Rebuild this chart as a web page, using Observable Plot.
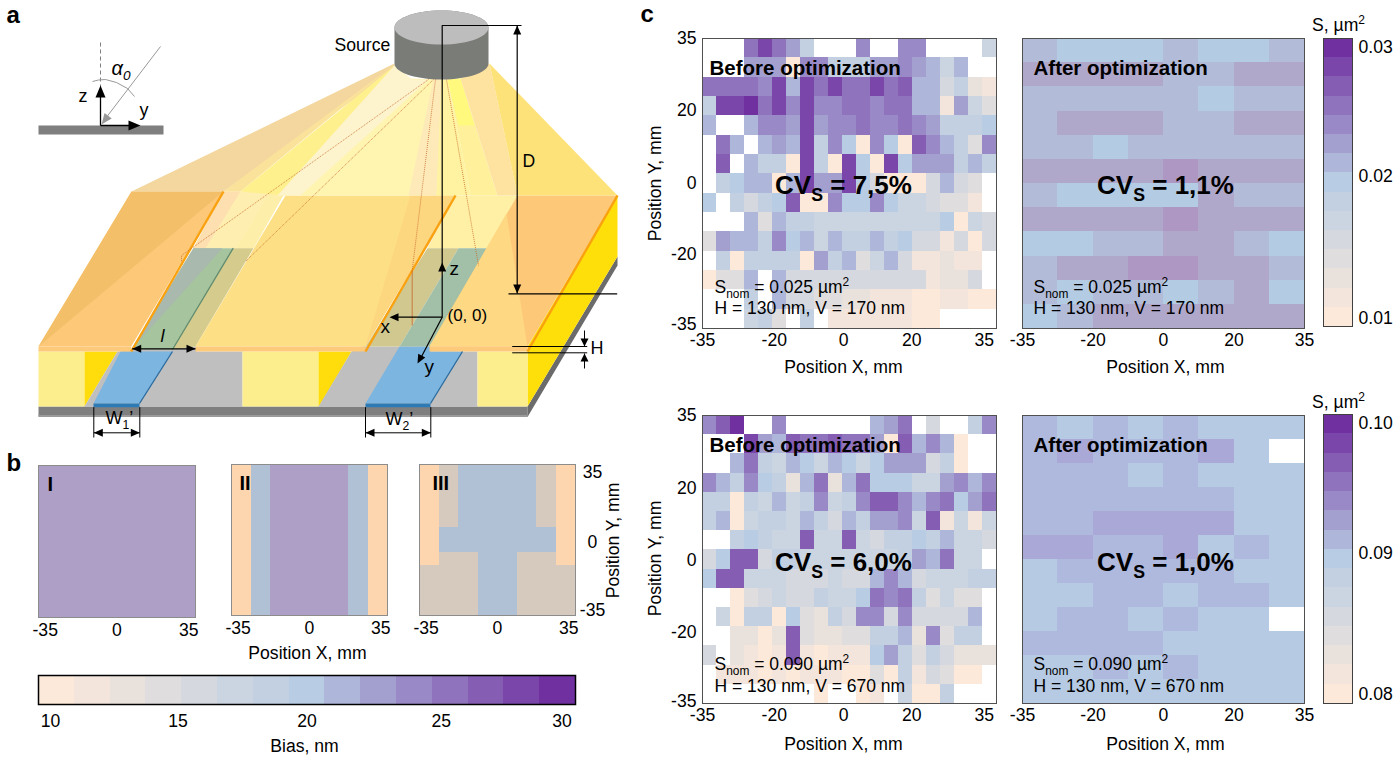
<!DOCTYPE html>
<html>
<head>
<meta charset="utf-8">
<script src="https://cdn.jsdelivr.net/npm/d3@7"></script>
<script src="https://cdn.jsdelivr.net/npm/@observablehq/plot@0.6"></script>
<style>
html,body{margin:0;padding:0;background:#fff;overflow:hidden}
#page{position:relative;width:1399px;height:762px;font-family:"Liberation Sans",Arial,sans-serif}
#page svg{position:absolute;overflow:visible;max-width:none}
</style>
</head>
<body>
<div id="page"></div>
<script>
const _ = null;
// ---------- shared colour bands (low to high) ----------
const bandColors = ["#FDE9D9","#F3E5DB","#E9E1DC","#DFDDDE","#D5D9DF","#CBD4E1","#C2D0E2","#B8CCE4","#AEB6DA","#A3A0D0","#9989C7","#8F73BD","#855DB3","#7A46AA","#7030A0"];

// ---------- panel c, top row: S in 10^-3 um^2 ----------
const beforeTop = [
[_,_,_,25,28,25,23,19,_,_,_,24,_,_,24,24,_,_,_,_,17],
[_,_,_,23,23,23,11,24,24,19,19,19,23,23,24,23,21,17,21,_,_],
[25,25,25,25,24,28,21,28,25,28,25,25,28,25,27,21,21,16,19,13,12],
[19,28,28,29,25,28,24,28,24,24,25,25,24,25,25,21,21,12,23,17,15],
[21,_,_,21,24,24,23,28,23,24,24,25,24,24,25,24,23,19,19,19,20],
[_,25,21,_,21,23,21,28,19,24,20,11,24,20,11,27,24,21,19,15,24],
[_,27,_,21,19,19,11,28,19,11,28,20,11,28,20,23,23,23,19,21,19],
[_,19,20,21,21,11,21,28,23,23,28,20,16,11,11,11,16,21,16,15,_],
[20,_,19,16,19,20,27,11,11,24,20,20,24,20,17,17,16,15,15,12,_],
[_,_,_,21,15,21,19,19,17,17,17,17,17,17,17,17,17,20,11,17,16],
[15,23,21,21,19,24,20,21,17,21,19,19,21,19,20,16,16,12,16,11,16],
[_,19,11,19,19,19,19,11,23,19,21,15,17,21,16,12,12,13,12,12,_],
[11,15,15,21,_,21,16,16,16,16,16,16,16,16,16,16,12,13,13,16,_],
[_,_,_,19,_,21,16,16,15,15,13,13,12,12,12,11,11,12,12,11,11],
[_,_,_,17,19,15,_,19,_,12,12,12,12,12,12,11,11,_,_,_,_]
];
const afterTop = [
[21,20,20,20,21,20,20,21],
[22,22,22,22,21,21,22,22],
[21,21,21,21,21,20,21,21],
[21,22,22,22,21,21,22,22],
[21,21,20,21,21,21,21,21],
[22,22,22,22,23,22,22,22],
[21,20,20,20,20,22,21,21],
[22,22,22,22,23,22,22,22],
[20,20,21,21,22,22,21,20],
[21,22,22,23,23,22,22,21],
[21,20,21,21,20,21,22,20],
[20,21,22,22,22,22,22,22]
];
const afterTopThresholds = [20.5,21.5,22.5];
const afterTopColors = ["#B3CBE3","#B2BCD9","#B0A8CB","#AE98C3"];

// ---------- panel c, bottom row ----------
const beforeBottom = [
[94,97,99,_,_,94,_,_,_,_,_,_,91,93,95,_,86,_,_,89,94],
[_,_,_,98,93,91,97,95,95,97,95,95,93,81,97,91,94,91,81,_,_],
[_,_,91,95,89,87,91,90,87,91,90,87,90,93,93,93,86,89,81,_,_],
[94,91,89,94,90,89,83,91,95,83,91,95,90,90,90,87,87,93,94,91,94],
[89,89,81,89,87,91,87,89,94,87,89,94,97,97,94,91,94,95,90,93,95],
[89,91,81,87,89,89,87,91,89,86,91,89,93,93,94,87,97,82,87,82,87],
[_,_,89,90,89,87,87,97,87,87,97,87,86,89,89,90,89,91,87,87,86],
[86,90,97,97,86,89,89,87,87,87,87,87,87,87,89,93,91,95,87,87,_],
[90,97,97,87,87,87,86,86,86,87,86,86,91,94,91,86,87,87,87,89,89],
[_,_,81,85,86,87,86,86,89,87,87,90,95,94,95,89,85,87,85,85,_],
[_,87,81,89,89,81,90,85,83,89,86,94,94,86,94,86,86,86,86,91,_],
[_,_,83,83,81,83,97,85,83,83,85,85,89,89,91,83,94,85,89,89,_],
[86,_,83,82,81,82,97,82,81,82,82,82,90,93,89,85,89,86,83,83,83],
[_,82,82,82,81,82,81,82,82,82,81,81,85,81,89,82,86,85,81,81,_],
[_,_,_,_,_,_,_,_,81,_,_,81,82,_,87,81,81,89,_,_,_]
];
const afterBottom = [
[91,90,91,90,91,90,90,90],
[91,92,91,91,91,92,90,_],
[91,91,91,90,91,90,90,90],
[91,91,91,91,91,91,90,90],
[91,91,92,92,92,92,90,90],
[92,92,91,91,92,90,91,90],
[90,91,91,91,91,91,90,90],
[90,90,91,91,90,91,91,90],
[90,91,91,90,91,90,90,_],
[91,91,91,91,90,90,90,90],
[90,90,91,90,91,90,90,90],
[90,90,90,90,90,90,90,90]
];
const afterBottomThresholds = [90.5,91.5];
const afterBottomColors = ["#B6CBE3","#AFB9DD","#AAA8D6"];

// ---------- panel b: bias, nm ----------
const biasI = Array.from({length:12},()=>[24,24,24,24,24,24,24,24]);
const biasIIRow = [10,19,24,24,24,24,19,10];
const biasII = Array.from({length:12},()=>biasIIRow);
const biasIII = [
[10,14,19,19,19,19,14,10],[10,14,19,19,19,19,14,10],[10,14,19,19,19,19,14,10],[10,14,19,19,19,19,14,10],[10,14,19,19,19,19,14,10],
[10,19,19,19,19,19,19,10],[10,19,19,19,19,19,19,10],
[10,14,14,19,19,14,14,10],
[14,14,14,19,19,14,14,14],[14,14,14,19,19,14,14,14],[14,14,14,19,19,14,14,14],[14,14,14,19,19,14,14,14]
];
const biasThresholds = [12,17,22];
const biasColors = ["#FDD6B0","#D6CABF","#B0C0D5","#AE9FC6"];

// ---------- tick labels ----------
const xLabels = ["-35","-20","0","20","35"];
const yLabels = ["35","20","0","-20","-35"];
const xTickPosBefore = [-35,-17.9,-1.4,14.8,32.1];
const xTickPosAfter = [-35,-17.5,0,17.5,35];
const yTickPos = [35,17.6,0,-17.1,-34];
const yTickPosBottom = [35,17.4,-0.2,-17.6,-34.6];
const biasXLabels = ["-35","0","35"];
const biasXPos = [-32,0,32];
const biasYLabels = ["35","0","-35"];
const biasYPos = [31.3,-1.2,-32.7];
const biasBarLabels = ["10","15","20","25","30"];
const biasBarPos = [10.45,15.2,20,25,29.5];
const sBarTopLabels = ["0.03","0.02","0.01"];
const sBarTopPos = [29.4,20.4,10.6];
const sBarBottomLabels = ["0.10","0.09","0.08"];
const sBarBottomPos = [99.4,90.4,80.6];

const font = "Liberation Sans";
const tickSize = 17.6;
const page = document.getElementById("page");
const thresholds15 = (lo,hi)=>d3.range(1,15).map(i=>lo+i*(hi-lo)/15);

function cells(rows){
  const ny=rows.length,nx=rows[0].length,out=[];
  rows.forEach((r,j)=>r.forEach((v,i)=>{ if(v!==null) out.push({
    x1:-35+i*70/nx,x2:-35+(i+1)*70/nx,y1:35-j*70/ny,y2:35-(j+1)*70/ny,v});}));
  return out;
}
function rich(svg){
  svg.querySelectorAll("text").forEach(t=>{
    const leafs = t.querySelector("tspan") ? [...t.querySelectorAll("tspan")] : [t];
    leafs.forEach(el=>{
      const s=el.textContent; if(!/[_^]\{/.test(s)) return;
      const size=parseFloat(getComputedStyle(el).fontSize)||16;
      el.textContent="";
      let pend=0;
      s.split(/([_^]\{[^}]*\})/).filter(p=>p).forEach(p=>{
        const m=p.match(/^([_^])\{(.*)\}$/);
        const ts=document.createElementNS("http://www.w3.org/2000/svg","tspan");
        if(m){
          const sh=(m[1]==="_"?0.26:-0.38)*size;
          ts.setAttribute("dy",(pend+sh).toFixed(2)); ts.setAttribute("font-size",(size*0.68).toFixed(1));
          ts.textContent=m[2]; pend=-sh;
        } else {
          if(pend) ts.setAttribute("dy",pend.toFixed(2));
          ts.textContent=p; pend=0;
        }
        el.appendChild(ts);
      });
    });
  });
}
function place(svg,left,top){
  svg.style.left=left+"px"; svg.style.top=top+"px";
  page.appendChild(svg); rich(svg);
}
function panel(o){
  const mL=60,mR=60,mT=10,mB=60;
  const tx=(text,anchor,dx,dy,size,weight,ta="start")=>Plot.text([text],{frameAnchor:anchor,dx,dy,fontSize:size,fontWeight:weight,textAnchor:ta,lineAnchor:"middle",fill:"#000"});
  const marks=[
    Plot.rect(cells(o.rows),{x1:"x1",x2:"x2",y1:"y1",y2:"y2",fill:"v",shapeRendering:"crispEdges"}),
    Plot.frame({stroke:o.frame||"#505050",strokeWidth:1})
  ];
  if(o.xLabels){const m=new Map(o.xPos.map((p,i)=>[p,o.xLabels[i]]));
    marks.push(Plot.axisX({ticks:o.xPos,tickFormat:d=>m.get(d),tickSize:0,tickPadding:o.xPad??5,label:null,anchor:"bottom"}));}
  if(o.yLabels){const m=new Map(o.yPos.map((p,i)=>[p,o.yLabels[i]]));
    marks.push(Plot.axisY({ticks:o.yPos,tickFormat:d=>m.get(d),tickSize:0,tickPadding:6,label:null,anchor:"left"}));}
  if(o.yRight){o.yRight.labels.forEach((l,i)=>marks.push(Plot.text([l],{y:[o.yRight.pos[i]],frameAnchor:"right",dx:17,textAnchor:"middle",fontSize:tickSize,fill:"#000"})));}
  if(o.heading) marks.push(tx(o.heading,"top-left",o.tdx,30,20.5,"bold"));
  if(o.cv) marks.push(tx(o.cv,"middle",o.cvdx,o.cvdy,26,"bold","middle"));
  if(o.note1) marks.push(tx(o.note1,"top-left",o.ndx,o.n1y,17.5,"normal"));
  if(o.note2) marks.push(tx(o.note2,"top-left",o.ndx,o.n2y,17.5,"normal"));
  if(o.tag) marks.push(tx(o.tag,"top-left",o.tagdx,19,20,"bold"));
  const svg=Plot.plot({
    width:o.w+mL+mR,height:o.h+mT+mB,marginLeft:mL,marginRight:mR,marginTop:mT,marginBottom:mB,
    style:{background:"transparent",fontFamily:font,fontSize:tickSize+"px",color:"#000"},
    x:{domain:[-35,35],axis:null},y:{domain:[-35,35],axis:null},
    color:{type:"threshold",domain:o.thresholds,range:o.palette},
    marks
  });
  place(svg,o.left-mL,o.top-mT);
}
function bar(o){
  const step=(o.hi-o.lo)/15;
  const bands=bandColors.map((c,i)=>({a:o.lo+i*step,b:o.lo+(i+1)*step,v:o.lo+(i+.5)*step}));
  const common={fill:"v",shapeRendering:"crispEdges"};
  const mk=o.vertical
    ?Plot.rect(bands,{x1:()=>0,x2:()=>1,y1:"a",y2:"b",...common})
    :Plot.rect(bands,{x1:"a",x2:"b",y1:()=>0,y2:()=>1,...common});
  const m=[mk,Plot.frame({stroke:o.vertical?"#404040":"#000",strokeWidth:o.vertical?1:1.5})];
  o.labels.forEach((l,i)=>{
    m.push(o.vertical
      ?Plot.text([l],{y:[o.pos[i]],frameAnchor:"right",dx:6,textAnchor:"start",fontSize:tickSize,fill:"#000"})
      :Plot.text([l],{x:[o.pos[i]],frameAnchor:"bottom",dy:17,lineAnchor:"middle",fontSize:tickSize,fill:"#000"}));
  });
  const svg=Plot.plot({width:o.w+100,height:o.h+100,marginLeft:50,marginRight:50,marginTop:50,marginBottom:50,
    style:{background:"transparent",fontFamily:font},
    x:{axis:null,domain:o.vertical?[0,1]:[o.lo,o.hi]},y:{axis:null,domain:o.vertical?[o.lo,o.hi]:[0,1]},
    color:{type:"threshold",domain:thresholds15(o.lo,o.hi),range:bandColors},marks:m});
  place(svg,o.left-50,o.top-50);
}

// ---------- schematic shapes in figure units ----------
const ell=(cx,cy,rx,ry,a0=0,a1=360)=>d3.range(a0,a1+1,6).map(a=>[cx+rx*Math.cos(a*Math.PI/180),cy+ry*Math.sin(a*Math.PI/180)]);
const head=(x1,y1,x2,y2,len=9,wid=4.2)=>{const a=Math.atan2(y2-y1,x2-x1),c=Math.cos(a),s=Math.sin(a);
  return {c:"#000",p:[[x2,y2],[x2-len*c-wid*s,y2-len*s+wid*c],[x2-len*c+wid*s,y2-len*s-wid*c]]};};
const shapes=[
 // substrate
 {c:"#7F7F7F",p:[[38,406],[527,406],[527,416],[38,416]]},
 {c:"#9A9A9A",p:[[38,414.5],[527,414.5],[527,416.5],[38,416.5]]},
 {c:"#6B6B6B",p:[[527,406],[617,256],[617,265],[527,416.5]]},
 {c:"#FFDF0A",p:[[527,346],[617,195],[617,256],[527,406]]},
 {c:"#FDEE8D",p:[[38,351],[84,351],[84,406],[38,406]]},
 {c:"#FFDD0C",p:[[84,351],[117,351],[84,406]]},
 {c:"#BFBFBF",p:[[84,406],[117,351],[172,346],[196,346],[196,351],[242,351],[242,406]]},
 {c:"#7BB5E0",p:[[120,351],[172,351],[139,403],[93,403]]},
 {c:"#2E7AB5",p:[[93,403],[139,403],[139,406.7],[93,406.7]]},
 {c:"#FDEE8D",p:[[242,351],[318,351],[318,406],[242,406]]},
 {c:"#FFDD0C",p:[[318,351],[351,351],[320,404],[318,406]]},
 {c:"#BFBFBF",p:[[351,351],[362,346],[430,346],[430,351],[477,351],[477,406],[318,406]]},
 {c:"#7BB5E0",p:[[399,346],[430,346],[430,351],[462,351],[430,403],[365,403]]},
 {c:"#2E7AB5",p:[[365,403],[430,403],[430,406.7],[365,406.7]]},
 {c:"#FDEE8D",p:[[477,351],[527,351],[527,406],[477,406]]},
 // openings between the mask bars
 {c:"#FEEFB0",p:[[223,191],[285,191],[253,247.7],[193,247.7]]},
 {c:"#FDDFB0",p:[[223,191],[240,191],[205,247.7],[193,247.7]]},
 {c:"#FDEEAA",p:[[270,191],[285,191],[253,247.7],[236,247.7]]},
 {c:"#A6C49E",p:[[193,247.7],[232.7,247.7],[172,349],[130.7,349]]},
 {c:"#A9B9AD",p:[[193,247.7],[222,247.7],[130.7,349]]},
 {c:"#D4CB8D",p:[[232.7,247.7],[253,247.7],[195,346],[172,349]]},
 {c:"#FFF0A5",p:[[455,195],[517,195],[488,247.7],[427,247.7]]},
 {c:"#FDE2C0",p:[[445,195],[455,195],[427,247.7],[436,215]]},
 {c:"#D0C88F",p:[[427,247.7],[458,247.7],[399,346],[365,346]]},
 {c:"#A2BFA8",p:[[458,247.7],[488,247.7],[429,346],[399,346]]},
 // mask bars
 {c:"#FDC878",p:[[131,191],[223,191],[130.7,346],[38,346]]},
 {c:"#F4BF69",p:[[131,191],[223,191],[38,346]]},
 {c:"#FDC97A",p:[[38,346],[130.7,346],[130.7,351],[38,351]]},
 {c:"#FDDF86",p:[[285,195],[455,195],[365,346],[195,346]]},
 {c:"#FDD680",p:[[410,195],[455,195],[365,346]]},
 {c:"#FDC97A",p:[[195,346],[365,346],[365,351],[195,351]]},
 {c:"#FDC878",p:[[517,195],[617,195],[527,346],[429,346]]},
 {c:"#FED882",p:[[506,213],[527,346],[429,346]]},
 {c:"#FDC97A",p:[[429,346],[527,346],[527,351],[429,351]]},
 // beam fans above the mask
 {c:"#F3D79E",p:[[394,63],[131,191],[223,191],[394,70]]},
 {c:"#FBE29B",p:[[394,64],[223,191],[240,191]]},
 {c:"#FFF08E",p:[[394,65],[240,191],[285,195],[400,76]]},
 {c:"#FFF4B0",p:[[410,78],[285,195],[455,195],[441,79]]},
 {c:"#FDF4CD",p:[[394,65],[277,195],[300,195],[428,79],[412,79]]},
 {c:"#FDEAB8",p:[[433,79],[408,195],[436,195],[441,79]]},
 {c:"#FFF2A0",p:[[441,79],[436,195],[470,195],[447,79]]},
 {c:"#FFF19C",p:[[447,79],[470,195],[497,195],[460,78]]},
 {c:"#FFFA7E",p:[[447,79],[460,78],[474,125],[458,125]]},
 {c:"#FDE2A0",p:[[460,78],[497,195],[517,195],[489,63]]},
 {c:"#FDE27A",p:[[489,63],[617,195],[517,195]]},
 // source
 {c:"#7A7C78",p:[...ell(441,27,47,17,180,360),...ell(441,63,47,16,0,180)]},
 {c:"#BDBDBD",p:ell(441,27,47,17)},
 // inset bar
 {c:"#7F7F7F",p:[[38,125],[163,125],[163,134],[38,134]]}
];
const lines=[
 // mask edges and trench edges
 {c:"#F9A10F",w:2.4,p:[[130.7,351],[223,191]]},
 {c:"#F9A10F",w:2.4,p:[[365,351],[455,195]]},
 {c:"#F9A10F",w:2.4,p:[[527,351],[617,195]]},
 {c:"#5F8A6E",w:1.3,p:[[232.7,247.7],[172,349]]},
 {c:"#2A6A9E",w:1.3,p:[[172,351],[139,403]]},
 {c:"#2A6A9E",w:1.3,p:[[462,351],[430,403]]},
 // dotted rays
 {c:"#C8682C",w:.8,d:"1 1",p:[[428,79],[181,255],[181,261]]},
 {c:"#C8682C",w:.8,d:"1 1",p:[[433,79],[245,261]]},
 {c:"#C8682C",w:.8,d:"1 1",p:[[435,79],[411.7,270]]},
 {c:"#C8682C",w:.8,p:[[411.7,270],[411.7,325]]},
 {c:"#C8682C",w:.8,d:"1 1",p:[[446,79],[478,265]]},
 // inset
 {c:"#808080",w:1,d:"4 3",p:[[100,42],[100,125]]},
 {c:"#999999",w:1,p:[[160,46],[105,118]]},
 {c:"#999999",w:1,p:[[92,81],[98,79.5],[105,79],[116,82],[127,88],[134,96]]},
 {c:"#000",w:1.3,p:[[100,125],[100,90]]},
 {c:"#000",w:1.3,p:[[100,125],[135,125]]},
 // z, x, y, D, H, W, l
 {c:"#000",w:1.2,p:[[521,25],[441.7,25],[441.7,316.7],[395,316.7]]},
 {c:"#000",w:1.2,p:[[441.7,316.7],[420,358]]},
 {c:"#000",w:1.2,p:[[516.7,25],[516.7,293]]},
 {c:"#000",w:1.2,p:[[508,293.3],[616.7,293.3]]},
 {c:"#000",w:1,p:[[511.7,346],[586.7,346]]},
 {c:"#000",w:1,p:[[511.7,352.3],[586.7,352.3]]},
 {c:"#000",w:1,p:[[584,330],[584,346]]},
 {c:"#000",w:1,p:[[584,368],[584,353]]},
 {c:"#000",w:1,p:[[93.3,406.7],[93.3,437]]},
 {c:"#000",w:1,p:[[139.3,406.7],[139.3,437]]},
 {c:"#000",w:1,p:[[93.3,432.3],[139.3,432.3]]},
 {c:"#000",w:1,p:[[365,406.7],[365,437]]},
 {c:"#000",w:1,p:[[430.3,406.7],[430.3,437]]},
 {c:"#000",w:1,p:[[365,432.3],[430.3,432.3]]},
 {c:"#000",w:1.2,p:[[131.7,348.3],[195,348.3]]}
];
const heads=[
 {c:"#999999",p:head(160,46,101,124,11,4.5).p},
 head(100,125,100,85,12,5), head(100,125,140,125,12,5),
 head(441.7,316.7,441.7,262,9,4), head(441.7,316.7,389,316.7,9,4), head(441.7,316.7,417,363,9,4),
 head(516.7,293,516.7,25,9,4), head(516.7,25,516.7,293,9,4),
 head(584,330,584,346,8,4), head(584,368,584,353,8,4),
 head(139.3,432.3,93.3,432.3,9,4), head(93.3,432.3,139.3,432.3,9,4),
 head(430.3,432.3,365,432.3,9,4), head(365,432.3,430.3,432.3,9,4),
 head(195,348.3,131.7,348.3,9,4), head(131.7,348.3,195,348.3,9,4)
];
const labels=[
 {x:6,y:15,t:"a",s:24,w:"bold"},{x:6,y:463,t:"b",s:24,w:"bold"},{x:640,y:14,t:"c",s:24,w:"bold"},
 {x:111,y:68,t:"α_{0}",s:20,st:"italic"},{x:78,y:96,t:"z",s:18},{x:139,y:110,t:"y",s:18},
 {x:334,y:45,t:"Source"},{x:522,y:161,t:"D"},{x:449,y:268,t:"z",s:19},{x:380,y:326,t:"x",s:19},{x:424,y:366,t:"y",s:19},
 {x:447,y:315,t:"(0, 0)",s:17},{x:590,y:348,t:"H",s:18},{x:105,y:418,t:"W_{1}’",s:18},{x:385,y:419,t:"W_{2}’",s:18},
 {x:160,y:336,t:"l",st:"italic",s:18},
 {x:307,y:653,t:"Position X, mm",a:"middle"},{x:304,y:746,t:"Bias, nm",a:"middle"},
 {x:1338,y:25,t:"S, µm^{2}",a:"middle"},{x:1338,y:402,t:"S, µm^{2}",a:"middle"},
 {x:655,y:183,t:"Position Y, mm",a:"middle",r:-90},{x:655,y:558,t:"Position Y, mm",a:"middle",r:-90},
 {x:613,y:540,t:"Position Y, mm",a:"middle",r:-90},
 {x:843,y:367,t:"Position X, mm",a:"middle"},{x:1165,y:367,t:"Position X, mm",a:"middle"},
 {x:843,y:744,t:"Position X, mm",a:"middle"},{x:1165,y:744,t:"Position X, mm",a:"middle"}
];
const W=1399,H=762;
const bg=Plot.plot({
  width:W,height:H,margin:0,
  style:{background:"transparent",fontFamily:font,color:"#000"},
  x:{domain:[0,W],axis:null},y:{domain:[H,0],axis:null},
  marks:[
    ...shapes.map(s=>Plot.line(s.p,{x:d=>d[0],y:d=>d[1],fill:s.c,stroke:"none",curve:"linear-closed"})),
    ...lines.map(l=>Plot.line(l.p,{x:d=>d[0],y:d=>d[1],stroke:l.c,strokeWidth:l.w,strokeDasharray:l.d,strokeLinecap:"butt"})),
    ...heads.map(s=>Plot.line(s.p,{x:d=>d[0],y:d=>d[1],fill:s.c,stroke:"none",curve:"linear-closed"})),
    ...labels.map(l=>Plot.text([l.t],{x:()=>l.x,y:()=>l.y,fontSize:l.s||tickSize,fontWeight:l.w||"normal",fontStyle:l.st||"normal",textAnchor:l.a||"start",rotate:l.r||0,fill:"#000"}))
  ]
});
place(bg,0,0);

// ---------- panel b ----------
const biasCommon={thresholds:biasThresholds,palette:biasColors,frame:"#8c8c8c",xLabels:biasXLabels,xPos:biasXPos,xPad:6};
panel({...biasCommon,rows:biasI,left:38,top:465,w:157,h:152,tag:"I",tagdx:9});
panel({...biasCommon,rows:biasII,left:231,top:464,w:156,h:151,tag:"II",tagdx:8});
panel({...biasCommon,rows:biasIII,left:419,top:464,w:156,h:151,tag:"III",tagdx:13,yRight:{labels:biasYLabels,pos:biasYPos}});
bar({lo:10,hi:30,left:38,top:675,w:537,h:29,labels:biasBarLabels,pos:biasBarPos});

// ---------- panel c ----------
const beforeOpts={w:294,xPos:xTickPosBefore,xLabels,heading:"Before optimization",tdx:7,cvdx:-6,ndx:12};
const afterOpts={w:282,xPos:xTickPosAfter,xLabels,heading:"After optimization",tdx:11,cvdx:2,ndx:11};
const top1={top:38,h:290,n1y:249,n2y:270,cvdy:2,note1:"S_{nom} = 0.025 µm^{2}",note2:"H = 130 nm, V = 170 nm"};
const top2={top:415,h:288,n1y:249,n2y:271,cvdy:3,note1:"S_{nom} = 0.090 µm^{2}",note2:"H = 130 nm, V = 670 nm"};
panel({...beforeOpts,...top1,left:702,rows:beforeTop,thresholds:thresholds15(10,30),palette:bandColors,cv:"CV_{S} = 7,5%",yPos:yTickPos,yLabels});
panel({...afterOpts,...top1,left:1022,rows:afterTop,thresholds:afterTopThresholds,palette:afterTopColors,cv:"CV_{S} = 1,1%"});
panel({...beforeOpts,...top2,left:702,rows:beforeBottom,thresholds:thresholds15(80,100),palette:bandColors,cv:"CV_{S} = 6,0%",yPos:yTickPosBottom,yLabels});
panel({...afterOpts,...top2,left:1022,rows:afterBottom,thresholds:afterBottomThresholds,palette:afterBottomColors,cv:"CV_{S} = 1,0%"});
bar({lo:10,hi:30,vertical:true,left:1323,top:38,w:29,h:288,labels:sBarTopLabels,pos:sBarTopPos});
bar({lo:80,hi:100,vertical:true,left:1323,top:414,w:29,h:289,labels:sBarBottomLabels,pos:sBarBottomPos});
</script>
</body>
</html>
